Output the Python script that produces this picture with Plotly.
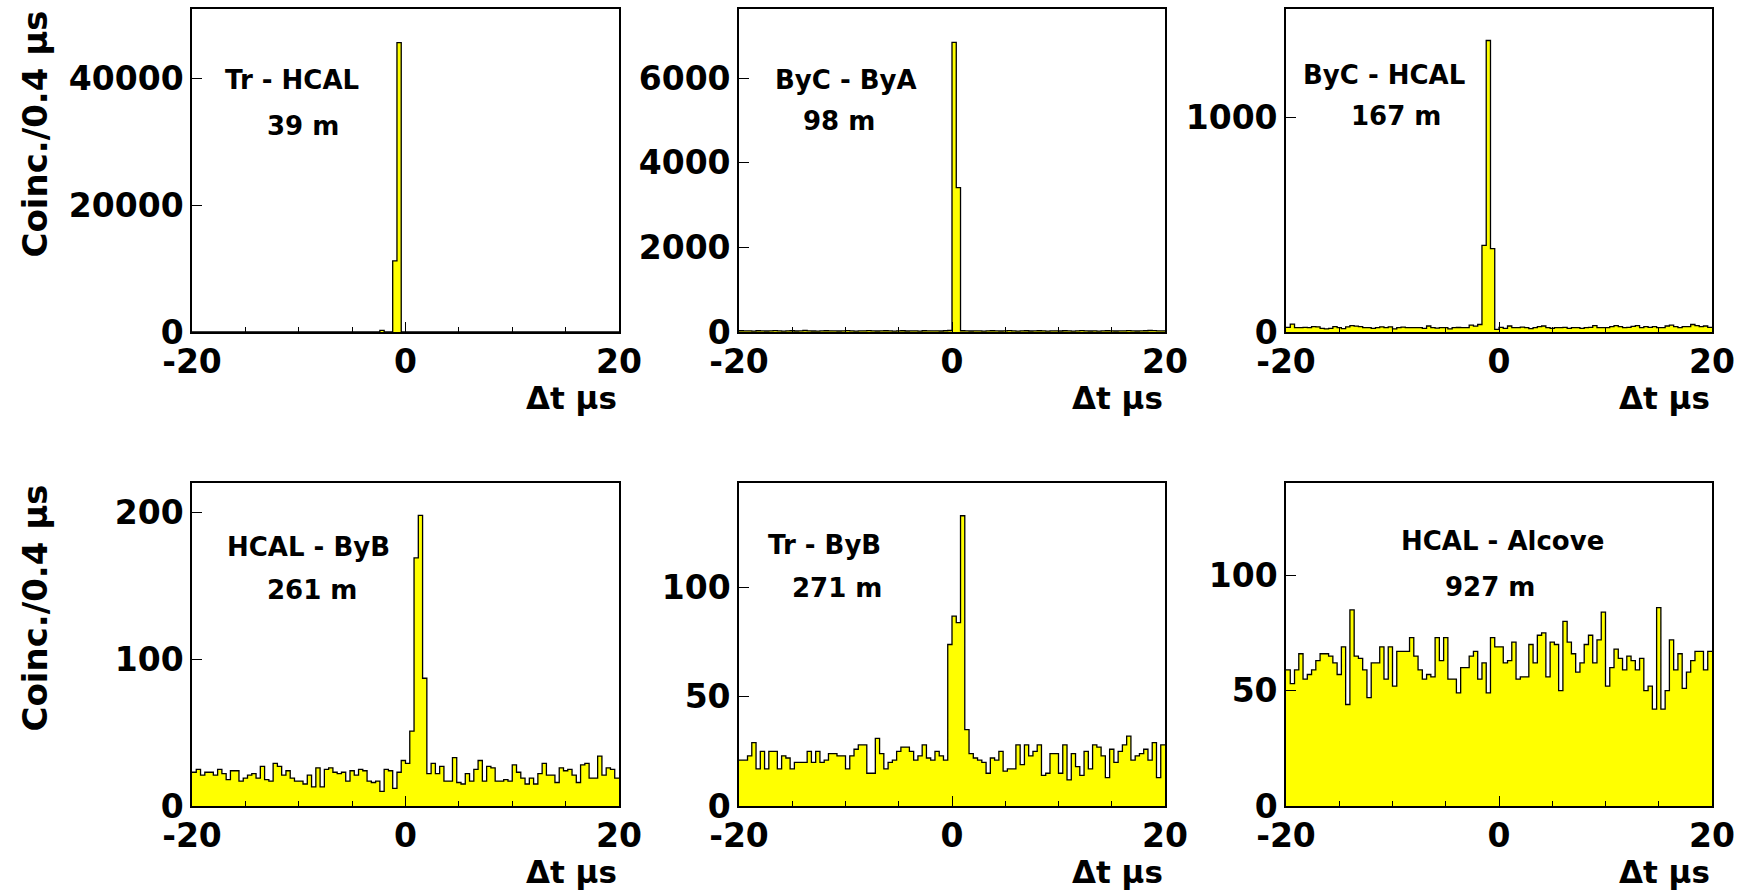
import numpy as np
import plotly.graph_objects as go

# ---------------- data ----------------
X_MIN, X_MAX, BIN_W = -20.0, 20.0, 0.4
BIN_EDGES = np.round(np.arange(X_MIN, X_MAX + BIN_W / 2, BIN_W), 3)  # 101 edges -> 100 bins

labels_pair = ["Tr - HCAL", "ByC - ByA", "ByC - HCAL", "HCAL - ByB", "Tr - ByB", "HCAL - Alcove"]
labels_dist = ["39 m", "98 m", "167 m", "261 m", "271 m", "927 m"]

tr_hcal = [0, 0, 0, 0, 0, 0, 0, 0, 0, 0, 0, 0, 0, 0, 0, 0, 0, 0, 0, 0,
           0, 0, 0, 0, 0, 0, 0, 0, 0, 0, 0, 0, 0, 0, 0, 0, 0, 0, 0, 0,
           0, 0, 0, 0, 260, 0, 0, 11200, 45600, 0, 0, 0, 0, 0, 0, 0, 0, 0, 0, 0,
           0, 0, 0, 0, 0, 0, 0, 0, 0, 0, 0, 0, 0, 0, 0, 0, 0, 0, 0, 0,
           0, 0, 0, 0, 0, 0, 0, 0, 0, 0, 0, 0, 0, 0, 0, 0, 0, 0, 0, 0]

byc_bya = [30, 25, 28, 22, 30, 26, 24, 28, 32, 25, 22, 27, 30, 24, 26, 35, 28, 24, 22, 26,
           30, 28, 25, 24, 27, 31, 26, 22, 25, 28, 33, 26, 24, 28, 30, 25, 22, 27, 29, 24,
           26, 28, 23, 30, 27, 25, 28, 24, 30, 35, 6840, 3410, 30, 26, 24, 28, 25, 22, 27, 30,
           26, 24, 28, 31, 25, 23, 27, 29, 24, 26, 30, 28, 22, 25, 27, 24, 29, 26, 23, 28,
           31, 25, 24, 27, 22, 26, 30, 28, 24, 25, 27, 33, 26, 24, 28, 30, 36, 32, 28, 26]

byc_hcal = [22, 37, 20, 20, 22, 20, 25, 24, 17, 15, 17, 25, 20, 16, 24, 30, 27, 25, 20, 20,
            17, 20, 24, 20, 24, 15, 20, 23, 20, 20, 20, 20, 17, 28, 20, 18, 20, 20, 15, 20,
            21, 20, 20, 32, 27, 35, 404, 1360, 389, 12, 22, 17, 28, 20, 20, 23, 20, 16, 20, 25,
            28, 20, 17, 20, 20, 22, 17, 20, 20, 17, 20, 22, 30, 20, 20, 20, 25, 30, 25, 20,
            22, 26, 30, 20, 25, 22, 25, 20, 20, 28, 32, 25, 20, 25, 25, 35, 30, 25, 28, 22]

hcal_byb = [23, 25, 21, 23, 23, 21, 25, 22, 18, 24, 24, 17, 19, 21, 22, 19, 27, 18, 17, 29,
            27, 21, 24, 19, 17, 17, 15, 21, 13, 26, 13, 25, 26, 23, 22, 23, 17, 24, 21, 25,
            24, 17, 16, 17, 10, 25, 24, 12, 23, 31, 29, 51, 169, 198, 87, 22, 29, 22, 27, 17,
            17, 33, 16, 15, 22, 17, 25, 31, 17, 27, 26, 17, 17, 18, 17, 28, 23, 19, 15, 19,
            15, 22, 29, 21, 21, 16, 26, 24, 25, 21, 16, 28, 29, 19, 19, 34, 21, 26, 25, 19]

tr_byb = [21, 21, 23, 29, 17, 25, 17, 25, 25, 17, 23, 22, 17, 20, 20, 20, 25, 20, 25, 20,
          21, 24, 24, 23, 23, 17, 23, 26, 28, 28, 15, 15, 31, 24, 17, 20, 21, 25, 27, 27,
          25, 21, 23, 28, 22, 21, 25, 23, 21, 74, 87, 84, 133, 35, 24, 22, 21, 20, 15, 22,
          21, 25, 16, 17, 17, 28, 19, 28, 23, 25, 28, 14, 15, 24, 24, 15, 28, 12, 24, 18,
          14, 25, 17, 28, 27, 23, 13, 26, 20, 25, 28, 32, 21, 23, 24, 26, 21, 29, 13, 28]

hcal_alcove = [59, 53, 59, 66, 55, 57, 59, 63, 66, 66, 65, 62, 57, 69, 44, 85, 65, 64, 59, 47,
               62, 62, 69, 55, 69, 52, 67, 67, 67, 73, 65, 59, 55, 57, 56, 73, 63, 73, 55, 55,
               49, 60, 60, 65, 67, 55, 62, 49, 73, 69, 69, 62, 63, 71, 55, 56, 56, 70, 62, 74,
               75, 56, 71, 70, 50, 80, 71, 66, 58, 62, 70, 74, 62, 72, 84, 52, 60, 68, 64, 59,
               65, 63, 59, 64, 50, 52, 42, 86, 42, 50, 72, 59, 66, 51, 58, 63, 67, 67, 59, 67]

series = [tr_hcal, byc_bya, byc_hcal, hcal_byb, tr_byb, hcal_alcove]

y_max = [50900, 7630, 1507, 220, 148, 140]
y_ticks = [[0, 20000, 40000], [0, 2000, 4000, 6000], [0, 1000], [0, 100, 200], [0, 50, 100], [0, 50, 100]]
x_ticks = [-20, 0, 20]
x_minor = [-15, -10, -5, 5, 10, 15]

# ---------------- layout (pixels of a 1741x893 page) ----------------
W, H = 1741, 893
col_px = [(192, 619), (739, 1165), (1286, 1712)]
row_px = [(9, 332), (483, 806)]

# annotation positions as fractions of each frame
lab_pos = [((0.235, 0.781), (0.26, 0.639)),
           ((0.25, 0.781), (0.235, 0.652)),
           ((0.23, 0.797), (0.258, 0.668)),
           ((0.272, 0.802), (0.28, 0.67)),
           ((0.20, 0.809), (0.23, 0.675)),
           ((0.509, 0.819), (0.479, 0.678))]

FONT = "DejaVu Sans"
fig = go.Figure()
layout = dict(width=W, height=H, margin=dict(l=0, r=0, t=0, b=0, autoexpand=False),
              template="none",
              paper_bgcolor="white", plot_bgcolor="white", showlegend=False)
annotations = []

for i, vals in enumerate(series):
    r, c = divmod(i, 3)
    n = i + 1
    xa = "xaxis" if n == 1 else f"xaxis{n}"
    ya = "yaxis" if n == 1 else f"yaxis{n}"
    xr = "x" if n == 1 else f"x{n}"
    yr = "y" if n == 1 else f"y{n}"
    xs = list(BIN_EDGES)
    ys = list(vals) + [vals[-1]]
    fig.add_trace(go.Scatter(x=xs, y=ys, mode="lines", line=dict(shape="hv", color="black", width=1.3),
                             fill="tozeroy", fillcolor="#FFFF00", xaxis=xr, yaxis=yr, hoverinfo="skip"))
    x0, x1 = col_px[c]
    y0, y1 = row_px[r]
    layout[xa] = dict(domain=[x0 / W, x1 / W], range=[X_MIN, X_MAX], anchor=yr, automargin=False,
                      tickmode="array", tickvals=x_ticks, ticktext=[str(v) for v in x_ticks],
                      ticks="inside", ticklen=10, tickwidth=1.2, tickcolor="black",
                      minor=dict(tickmode="array", tickvals=x_minor, ticks="inside", ticklen=5,
                                 tickwidth=1.2, tickcolor="black", showgrid=False),
                      showline=True, linecolor="black", linewidth=1.6, mirror=True,
                      showgrid=False, zeroline=False,
                      tickfont=dict(family=FONT, size=33, color="black", weight="bold"))
    layout[ya] = dict(domain=[1 - y1 / H, 1 - y0 / H], range=[0, y_max[i]], anchor=xr, automargin=False,
                      tickmode="array", tickvals=y_ticks[i], ticktext=[str(v) for v in y_ticks[i]],
                      ticks="inside", ticklen=10, tickwidth=1.2, tickcolor="black",
                      showline=True, linecolor="black", linewidth=1.6, mirror=True,
                      showgrid=False, zeroline=False,
                      tickfont=dict(family=FONT, size=33, color="black", weight="bold"))
    (px1, py1), (px2, py2) = lab_pos[i]
    for txt, (px, py) in ((labels_pair[i], (px1, py1)), (labels_dist[i], (px2, py2))):
        annotations.append(dict(text=txt, x=px, y=py, xref=f"{xr} domain", yref=f"{yr} domain",
                                showarrow=False, xanchor="center", yanchor="middle",
                                font=dict(family=FONT, size=26, color="black", weight="bold")))
    # x-axis title
    annotations.append(dict(text="Δt μs", x=x1 / W, y=1 - (y1 + 66) / H, xref="paper", yref="paper",
                            showarrow=False, xanchor="right", yanchor="middle",
                            font=dict(family=FONT, size=31, color="black", weight="bold")))
    if c == 0:
        annotations.append(dict(text="Coinc./0.4 μs", x=34 / W, y=1 - y0 / H, xref="paper", yref="paper",
                                showarrow=False, xanchor="center", yanchor="top", textangle=-90,
                                font=dict(family=FONT, size=34, color="black", weight="bold")))

layout["annotations"] = annotations
fig.update_layout(**layout)
fig.write_html("out.html")
